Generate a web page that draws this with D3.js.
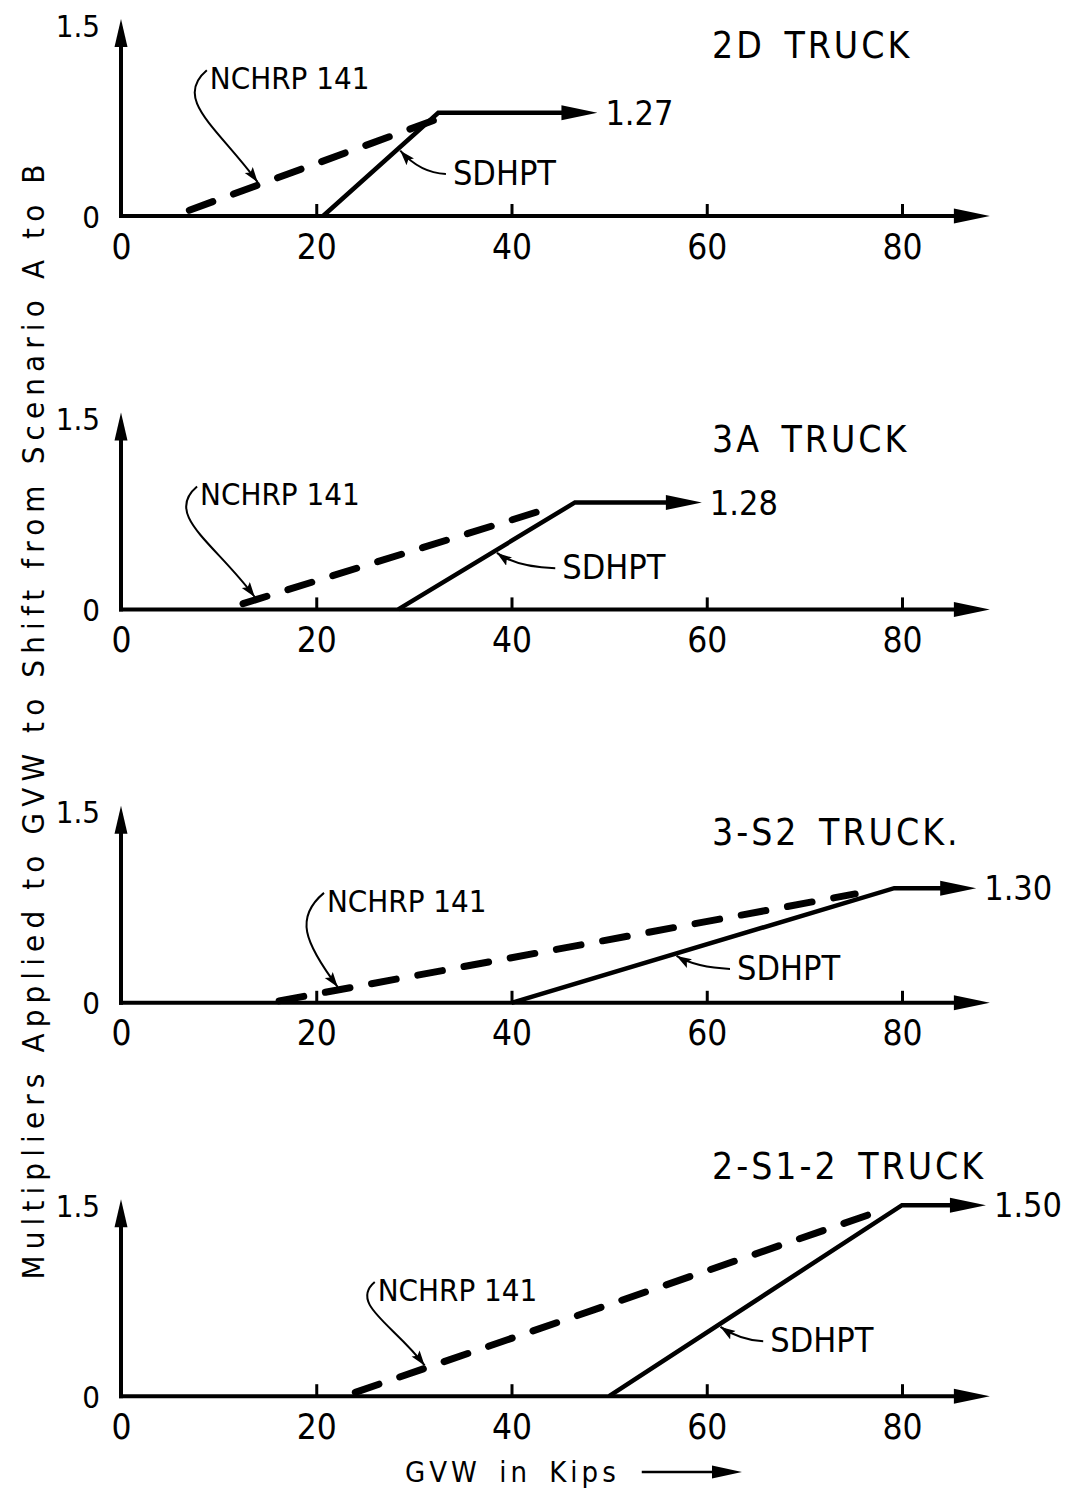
<!DOCTYPE html>
<html><head><meta charset="utf-8">
<script src="https://cdn.jsdelivr.net/npm/d3@7"></script>
<style>
body{margin:0;background:#fff}
text{font-family:"DejaVu Sans Condensed","DejaVu Sans",sans-serif;fill:#000}
</style>
</head><body>
<svg id="c" width="1090" height="1491"></svg>
<script>
// ---------- data ----------
const trucks = ["2D TRUCK", "3A TRUCK", "3-S2 TRUCK.", "2-S1-2 TRUCK"];
const xTicks = [0, 20, 40, 60, 80];
const yTicks = [1.0, 1.5];
const yTickLabels = ["0", "1.5"];
// NCHRP 141 dashed line: [start, end] in kips and multiplier
const nchrpX = [[7, 32], [12.5, 44.5], [16.2, 75.2], [24, 78.3]];
const nchrpY = [[1.015, 1.25], [1.015, 1.27], [1.005, 1.285], [1.01, 1.49]];
// SDHPT solid line: start, plateau start, arrow end
const sdhptX = [[20.7, 32.5, 48.8], [28.4, 46.5, 59.5], [40, 79.2, 87.6], [50, 80, 88.6]];
const sdhptY = [[1.0, 1.27, 1.27], [1.0, 1.28, 1.28], [1.0, 1.30, 1.30], [1.0, 1.50, 1.50]];
const plateauLabels = ["1.27", "1.28", "1.30", "1.50"];
// annotation targets (kips along each line)
const nchrpTarget = [14, 13.7, 22.2, 31.1];
const sdhptTarget = [28.4, 38.3, 56.7, 61.2];
// annotation text anchors (kips, multiplier)
const nchrpLabelAt = [[9.1, 1.332], [8.1, 1.272], [21.1, 1.238], [26.3, 1.249]];
const sdhptLabelAt = [[34.0, 1.081], [45.2, 1.079], [63.1, 1.060], [66.5, 1.115]];
const yTitle = "Multipliers Applied to GVW to Shift from Scenario A to B";
const xTitle = "GVW in Kips";

// ---------- layout ----------
const svg = d3.select("#c");
const plotH = 191;
const panelTop = i => 25 + i * 393.4;
const x = d3.scaleLinear().domain([0, 80]).range([121, 902]);
const y = d3.scaleLinear().domain([1.0, 1.5]).range([plotH, 0]);

const defs = svg.append("defs");
defs.append("marker").attr("id", "ah").attr("markerUnits", "userSpaceOnUse")
  .attr("markerWidth", 16).attr("markerHeight", 12).attr("refX", 15).attr("refY", 5)
  .attr("orient", "auto")
  .append("path").attr("d", "M0,0 L15,5 L0,10 L3,5 Z").attr("fill", "#000");

const interp = (xs, ys, k) => {
  for (let j = 0; j < xs.length - 1; j++) {
    if (k >= xs[j] && k <= xs[j + 1]) {
      return ys[j] + (ys[j + 1] - ys[j]) * (k - xs[j]) / (xs[j + 1] - xs[j]);
    }
  }
  return ys[ys.length - 1];
};

trucks.forEach((name, i) => {
  const g = svg.append("g").attr("transform", `translate(0,${panelTop(i)})`);

  // x axis
  const xa = g.append("g").attr("transform", `translate(0,${y(1.0)})`)
    .call(d3.axisBottom(x).tickValues(xTicks).tickSize(-12).tickSizeOuter(0).tickFormat(d3.format("d")));
  xa.select(".domain").remove();
  xa.selectAll(".tick line").attr("stroke", "#000").attr("stroke-width", 3)
    .filter(d => d === 0).remove();
  xa.selectAll(".tick text").attr("y", 30).attr("dy", "0.36em")
    .style("font-size", "35px").style("font-family", null).attr("fill", "#000");
  const axEnd = x(89);
  g.append("line").attr("x1", x(0) - 2).attr("x2", axEnd - 30).attr("y1", y(1.0)).attr("y2", y(1.0))
    .attr("stroke", "#000").attr("stroke-width", 4);
  g.append("path")
    .attr("d", `M${axEnd},${y(1.0)} L${axEnd - 36},${y(1.0) - 7.5} L${axEnd - 36},${y(1.0) + 7.5} Z`)
    .attr("fill", "#000");

  // y axis
  const ya = g.append("g").attr("transform", `translate(${x(0)},0)`)
    .call(d3.axisLeft(y).tickValues(yTicks).tickSize(0).tickPadding(21)
      .tickFormat((d, k) => yTickLabels[k]));
  ya.select(".domain").remove();
  ya.selectAll(".tick text").style("font-size", "31px").style("font-family", null)
    .attr("fill", "#000").attr("dy", "0.36em");
  const yTip = y(1.5) - 6;
  g.append("line").attr("x1", x(0)).attr("x2", x(0)).attr("y1", y(1.0) + 2).attr("y2", yTip + 22)
    .attr("stroke", "#000").attr("stroke-width", 4);
  g.append("path")
    .attr("d", `M${x(0)},${yTip} L${x(0) - 6.5},${yTip + 28} L${x(0) + 6.5},${yTip + 28} Z`)
    .attr("fill", "#000");

  // NCHRP dashed line
  const line = d3.line().x(d => x(d[0])).y(d => y(d[1]));
  g.append("path").datum(d3.zip(nchrpX[i], nchrpY[i])).attr("d", line)
    .attr("fill", "none").attr("stroke", "#000").attr("stroke-width", 7)
    .attr("stroke-linecap", "round").attr("stroke-dasharray", "25,22");

  // SDHPT solid line with plateau arrow
  const pts = d3.zip(sdhptX[i], sdhptY[i]);
  const last = pts[pts.length - 1];
  const lineEnd = pts.slice(0, -1).concat([[x.invert(x(last[0]) - 30), last[1]]]);
  g.append("path").datum(lineEnd).attr("d", line)
    .attr("fill", "none").attr("stroke", "#000").attr("stroke-width", 4.5)
    .attr("stroke-linejoin", "miter");
  const tx = x(last[0]), ty = y(last[1]);
  g.append("path").attr("d", `M${tx},${ty} L${tx - 36},${ty - 7.5} L${tx - 36},${ty + 7.5} Z`)
    .attr("fill", "#000");
  g.append("text").attr("x", tx + 8).attr("y", ty).attr("dy", "0.36em")
    .style("font-size", "34px").text(plateauLabels[i]);

  // title
  const titleY = i === 3 ? y(1.5) - 40 : y(1.5) + 20;
  g.append("text").attr("x", 712).attr("y", titleY).attr("dy", "0.36em")
    .style("font-size", "37px").style("letter-spacing", "3px").style("word-spacing", "6px")
    .text(name);

  // NCHRP annotation
  const nt = [x(nchrpTarget[i]), y(interp(nchrpX[i], nchrpY[i], nchrpTarget[i]))];
  const nl = [x(nchrpLabelAt[i][0]), y(nchrpLabelAt[i][1])];
  g.append("text").attr("x", nl[0]).attr("y", nl[1]).style("font-size", "31px").text("NCHRP 141");
  const p0 = [nl[0] - 3, nl[1] - 19];
  const h = nt[1] - p0[1];
  const p1 = [p0[0] - 0.3 * h, p0[1] + 0.25 * h];
  const p2 = [nt[0] - 0.35 * h, nt[1] - 0.5 * h];
  g.append("path")
    .attr("d", `M${p0[0]},${p0[1]} C${p1[0]},${p1[1]} ${p2[0]},${p2[1]} ${nt[0]},${nt[1] - 3}`)
    .attr("fill", "none").attr("stroke", "#000").attr("stroke-width", 2)
    .attr("marker-end", "url(#ah)");

  // SDHPT annotation
  const st = [x(sdhptTarget[i]), y(interp(sdhptX[i], sdhptY[i], sdhptTarget[i]))];
  const sl = [x(sdhptLabelAt[i][0]), y(sdhptLabelAt[i][1])];
  g.append("text").attr("x", sl[0]).attr("y", sl[1]).style("font-size", "34px").text("SDHPT");
  const q0 = [sl[0] - 7, sl[1] - 11];
  g.append("path")
    .attr("d", `M${q0[0]},${q0[1]} Q${st[0] + 22},${q0[1] - 1} ${st[0] + 2},${st[1] + 2}`)
    .attr("fill", "none").attr("stroke", "#000").attr("stroke-width", 2)
    .attr("marker-end", "url(#ah)");
});

// y title
svg.append("text").attr("transform", "translate(44,722) rotate(-90)")
  .attr("text-anchor", "middle").style("font-size", "31px")
  .attr("textLength", 1115).attr("lengthAdjust", "spacing").text(yTitle);

// x title with arrow
const xt = svg.append("text").attr("x", 405).attr("y", 1482).style("font-size", "29px")
  .style("letter-spacing", "4px").style("word-spacing", "6px").text(xTitle);
const xtEnd = 405 + xt.node().getComputedTextLength() + 22;
svg.append("line").attr("x1", xtEnd).attr("x2", 715).attr("y1", 1472).attr("y2", 1472)
  .attr("stroke", "#000").attr("stroke-width", 2.5);
svg.append("path").attr("d", "M742,1472 L712,1465.5 L712,1478.5 Z").attr("fill", "#000");
</script>
</body></html>
